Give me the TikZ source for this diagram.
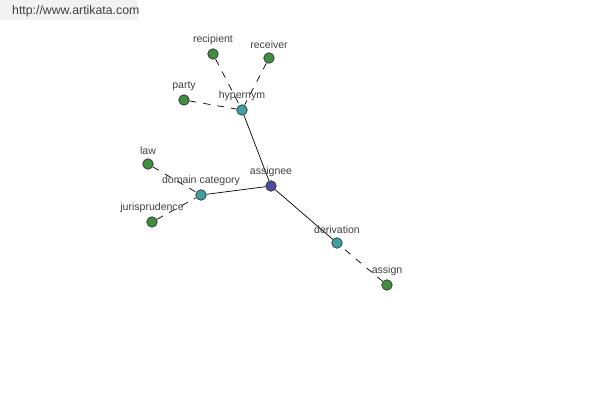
\documentclass[tikz,border=0pt]{standalone}
\usepackage{fontspec}
\setmainfont{Liberation Sans}
\begin{document}
\begin{tikzpicture}[x=0.02cm,y=-0.02cm,
  dot/.style={circle,draw=black!80,line width=0.4pt,minimum size=0.21cm,inner sep=0pt},
  leaf/.style={dot,fill=green!40!black!75},
  mid/.style={dot,fill=teal!75!white},
  root/.style={dot,fill=blue!45!black!70},
  lab/.style={font=\fontsize{6}{7}\selectfont,text=black!75,inner sep=0pt},
  dl/.style={dashed,dash pattern=on 4pt off 4pt,line width=0.4pt},
  sl/.style={line width=0.4pt}]
\useasboundingbox (0,0) rectangle (600,400);
\fill[black!5] (0,0) rectangle (138,20);
\node[anchor=west,font=\fontsize{7}{8}\selectfont,text=black!75] (url) at (6,11) {http://www.artikata.com};
\node[leaf] (recipient) at (213,54) {};
\node[leaf] (receiver) at (269,58) {};
\node[leaf] (party) at (184,100) {};
\node[mid] (hypernym) at (242,110) {};
\node[leaf] (law) at (148,164) {};
\node[mid] (domain) at (201,195) {};
\node[root] (assignee) at (271,186) {};
\node[leaf] (juris) at (152,222) {};
\node[mid] (derivation) at (337,243) {};
\node[leaf] (assign) at (387,285) {};
\draw[sl] (hypernym) -- (assignee);
\draw[sl] (domain) -- (assignee);
\draw[sl] (derivation) -- (assignee);
\draw[dl] (recipient) -- (hypernym);
\draw[dl] (receiver) -- (hypernym);
\draw[dl] (party) -- (hypernym);
\draw[dl] (law) -- (domain);
\draw[dl] (juris) -- (domain);
\draw[dl] (assign) -- (derivation);
\foreach \n/\t in {recipient/recipient,receiver/receiver,party/party,hypernym/hypernym,law/law,domain/domain category,assignee/assignee,juris/jurisprudence,derivation/derivation,assign/assign}
  \node[lab,anchor=south] (l\n) at ([yshift=2pt]\n.north) {\t};
\end{tikzpicture}
\end{document}
